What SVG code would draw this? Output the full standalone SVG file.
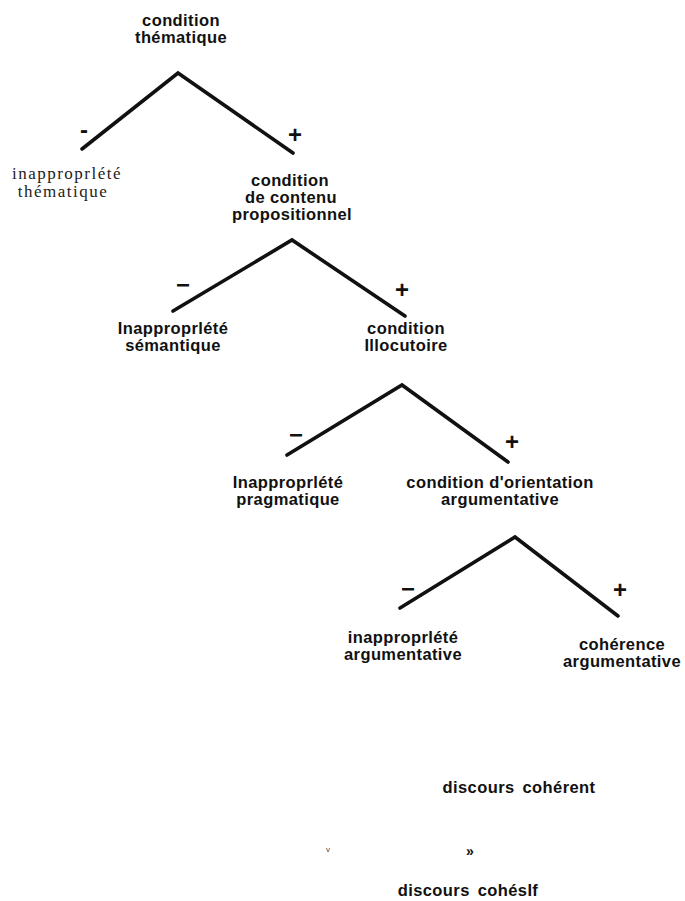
<svg xmlns="http://www.w3.org/2000/svg" width="685" height="901" viewBox="0 0 685 901">
  <style>
    .lbl { font-family: "Liberation Sans", Arial, sans-serif; font-weight: bold; font-size: 16.5px; fill: #111; text-anchor: middle; letter-spacing: 0.4px; }
    .serif { font-family: "Liberation Serif", "Times New Roman", serif; font-size: 17px; fill: #222; text-anchor: middle; letter-spacing: 1.5px; }
    .sign { font-family: "Liberation Sans", Arial, sans-serif; font-weight: bold; font-size: 24px; fill: #111; text-anchor: middle; }
    .branch { fill: none; stroke: #111; stroke-width: 3.6; stroke-linecap: round; stroke-linejoin: miter; }
  </style>
  <rect width="685" height="901" fill="#fff"/>

  <!-- branching connectors -->
  <g id="connectors">
    <polyline class="branch" points="82,149 178,73 293,153"/>
    <polyline class="branch" points="173,311 292,240 405,316"/>
    <polyline class="branch" points="287,455 402,385 508,462"/>
    <polyline class="branch" points="400,608 515,537 618,616"/>
  </g>

  <!-- branch signs -->
  <g id="signs">
    <text class="sign" x="84" y="138">-</text>
    <text class="sign" x="295" y="143">+</text>
    <text class="sign" x="183" y="293">−</text>
    <text class="sign" x="402" y="298">+</text>
    <text class="sign" x="296" y="443">−</text>
    <text class="sign" x="512" y="450">+</text>
    <text class="sign" x="408" y="597">−</text>
    <text class="sign" x="620" y="598">+</text>
  </g>

  <g id="n-condition-thematique">
    <text class="lbl" x="181" y="26">condition</text>
    <text class="lbl" x="181" y="43">thématique</text>
  </g>

  <g id="n-inappropriete-thematique">
    <text class="serif" x="67" y="179">inapproprlété</text>
    <text class="serif" x="63" y="197">thématique</text>
  </g>

  <g id="n-condition-contenu">
    <text class="lbl" x="290" y="186">condition</text>
    <text class="lbl" x="291" y="203">de contenu</text>
    <text class="lbl" x="292" y="220">propositionnel</text>
  </g>

  <g id="n-inappropriete-semantique">
    <text class="lbl" x="173" y="334">Inapproprlété</text>
    <text class="lbl" x="173" y="351">sémantique</text>
  </g>

  <g id="n-condition-illocutoire">
    <text class="lbl" x="406" y="334">condition</text>
    <text class="lbl" x="406" y="351">Illocutoire</text>
  </g>

  <g id="n-inappropriete-pragmatique">
    <text class="lbl" x="288" y="488">Inapproprlété</text>
    <text class="lbl" x="288" y="505">pragmatique</text>
  </g>

  <g id="n-condition-orientation">
    <text class="lbl" x="500" y="488">condition d'orientation</text>
    <text class="lbl" x="500" y="505">argumentative</text>
  </g>

  <g id="n-inappropriete-argumentative">
    <text class="lbl" x="403" y="643">inapproprlété</text>
    <text class="lbl" x="403" y="660">argumentative</text>
  </g>

  <g id="n-coherence-argumentative">
    <text class="lbl" x="622" y="650">cohérence</text>
    <text class="lbl" x="622" y="667">argumentative</text>
  </g>

  <g id="n-discours-coherent">
    <text class="lbl" x="519" y="793" word-spacing="3">discours cohérent</text>
  </g>

  <g id="marks">
    <text x="328" y="852" font-family="Liberation Sans, Arial, sans-serif" font-size="8" fill="#444" text-anchor="middle">v</text>
    <text x="470" y="856" font-family="Liberation Sans, Arial, sans-serif" font-size="14" font-weight="bold" fill="#111" text-anchor="middle">»</text>
  </g>

  <g id="n-discours-cohesif">
    <text class="lbl" x="468" y="896" word-spacing="3">discours cohésIf</text>
  </g>
</svg>
